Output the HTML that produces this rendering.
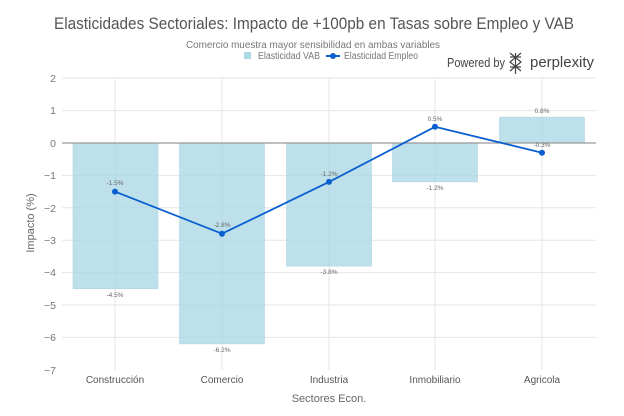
<!DOCTYPE html>
<html><head><meta charset="utf-8"><style>
body{margin:0;background:#fff;}
svg{display:block;font-family:"Liberation Sans",sans-serif;}
</style></head><body>
<svg width="624" height="416" viewBox="0 0 624 416">
<rect width="624" height="416" fill="#fff"/>
<text x="54" y="29" font-size="17" fill="#555" textLength="520" lengthAdjust="spacingAndGlyphs">Elasticidades Sectoriales: Impacto de +100pb en Tasas sobre Empleo y VAB</text>
<text x="186" y="48" font-size="10.5" fill="#777" textLength="254" lengthAdjust="spacingAndGlyphs">Comercio muestra mayor sensibilidad en ambas variables</text>
<rect x="244" y="52" width="7" height="7" fill="#add8e6"/>
<text x="258" y="59" font-size="10" fill="#777" textLength="62" lengthAdjust="spacingAndGlyphs">Elasticidad VAB</text>
<line x1="326" y1="56" x2="340" y2="56" stroke="#0a5fd0" stroke-width="2"/>
<circle cx="333" cy="56" r="3" fill="#0a5fd0"/>
<text x="344" y="59" font-size="10" fill="#777" textLength="74" lengthAdjust="spacingAndGlyphs">Elasticidad Empleo</text>
<text x="447" y="67" font-size="12.5" fill="#444" textLength="58" lengthAdjust="spacingAndGlyphs">Powered by</text>
<g stroke="#444" stroke-width="1.2" fill="none"><path d="M510 53 L521 62 L510 71 M521 53 L510 62 L521 71 M515.5 53 V74 M510 57 H521 M510 67 H521"/></g>
<text x="530" y="67" font-size="15" fill="#444" textLength="64" lengthAdjust="spacingAndGlyphs">perplexity</text>
<g stroke="#e6e6e6" stroke-width="1">
<line x1="62" x2="596" y1="78" y2="78"/><line x1="62" x2="596" y1="110.6" y2="110.6"/>
<line x1="62" x2="596" y1="175.4" y2="175.4"/><line x1="62" x2="596" y1="207.8" y2="207.8"/>
<line x1="62" x2="596" y1="240.2" y2="240.2"/><line x1="62" x2="596" y1="272.6" y2="272.6"/>
<line x1="62" x2="596" y1="305" y2="305"/><line x1="62" x2="596" y1="337.4" y2="337.4"/>
<line x1="115" x2="115" y1="78" y2="370"/><line x1="222" x2="222" y1="78" y2="370"/>
<line x1="329" x2="329" y1="78" y2="370"/><line x1="435" x2="435" y1="78" y2="370"/>
<line x1="542" x2="542" y1="78" y2="370"/>
</g>
<g fill="#add8e6" fill-opacity="0.8" stroke="#a8d2e0" stroke-width="0.5">
<rect x="73" y="143" width="85" height="145.8"/>
<rect x="179.5" y="143" width="85" height="200.9"/>
<rect x="286.5" y="143" width="85" height="123.1"/>
<rect x="392.5" y="143" width="85" height="38.9"/>
<rect x="499.5" y="117.1" width="85" height="25.9"/>
</g>
<line x1="62" x2="596" y1="143" y2="143" stroke="#999" stroke-width="1.3"/>
<g font-size="10.5" fill="#777" text-anchor="end">
<text x="56" y="82">2</text><text x="56" y="114">1</text><text x="56" y="147">0</text>
<text x="56" y="179">−1</text><text x="56" y="212">−2</text><text x="56" y="244">−3</text>
<text x="56" y="276">−4</text><text x="56" y="309">−5</text><text x="56" y="341">−6</text><text x="56" y="374">−7</text>
</g>
<text transform="translate(34,223) rotate(-90)" text-anchor="middle" font-size="11" fill="#666">Impacto (%)</text>
<g font-size="10" fill="#555" text-anchor="middle">
<text x="115" y="383">Construcción</text><text x="222" y="383">Comercio</text>
<text x="329" y="383">Industria</text><text x="435" y="383">Inmobiliario</text><text x="542" y="383">Agricola</text>
</g>
<text x="329" y="402" text-anchor="middle" font-size="11" fill="#666">Sectores Econ.</text>
<g font-size="6.5" fill="#666" text-anchor="middle">
<text x="115" y="297">-4.5%</text><text x="222" y="352">-6.2%</text><text x="329" y="274">-3.8%</text>
<text x="435" y="190">-1.2%</text><text x="542" y="113">0.8%</text>
<text x="115" y="185">-1.5%</text><text x="222" y="227">-2.8%</text><text x="329" y="176">-1.2%</text>
<text x="435" y="121">0.5%</text><text x="542" y="147">-0.3%</text>
</g>
<polyline points="115,191.6 222,233.7 329,181.9 435,126.8 542,152.7" fill="none" stroke="#0a5fd0" stroke-width="1.8"/>
<g fill="#0a5fd0">
<circle cx="115" cy="191.6" r="3"/><circle cx="222" cy="233.7" r="3"/><circle cx="329" cy="181.9" r="3"/>
<circle cx="435" cy="126.8" r="3"/><circle cx="542" cy="152.7" r="3"/>
</g>
</svg>
</body></html>
